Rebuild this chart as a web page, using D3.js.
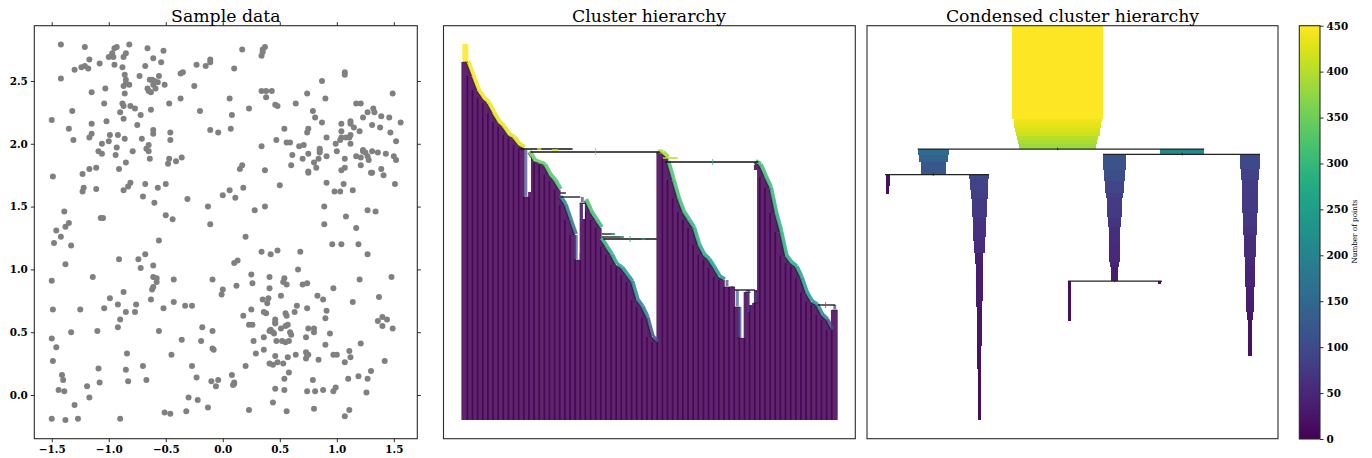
<!DOCTYPE html>
<html><head><meta charset="utf-8">
<script src="https://cdn.jsdelivr.net/npm/d3@7/dist/d3.min.js"></script>
<style>
html,body{margin:0;padding:0;background:#fff}
svg{display:block}
text{font-family:"DejaVu Serif",serif;fill:#000}
.tick text{font-weight:700;font-size:10.4px}
.title{font-size:17.3px;text-anchor:middle}
</style></head><body><svg id="c" width="1372" height="458"></svg>
<script>
// ---------- Sample data ----------
const sampleX=[-1.42,-1.21,-1.42,-1.50,-1.49,-1.39,-1.35,-1.31,-1.32,-1.30,-1.24,-1.21,-1.18,-1.17,-1.15,-1.15,-1.08,-1.03,-1.04,-1.02,-1.15,-1.17,-1.06,-1.09,-1.06,-0.99,-1.00,-1.11,-1.17,-1.23,-1.22,-1.23,-1.11,-1.07,-1.05,-1.46,-1.38,-1.35,-1.42,-1.33,-1.48,-1.38,
-1.00,-0.97,-0.96,-0.95,-0.93,-0.95,-0.88,-0.87,-0.85,-0.82,-0.86,-0.85,-0.85,-0.87,-0.82,-0.86,-0.73,-0.68,-0.66,-0.61,-0.52,-0.54,-0.56,-0.64,-0.62,-0.60,-0.61,-0.57,-0.51,-0.66,-0.65,-0.63,-0.59,-0.88,-0.87,-0.81,-0.77,-0.90,-0.87,-0.72,-0.63,-0.75,-0.71,-0.61,-0.61,-0.92,-0.86,-0.93,-0.94,-0.79,-0.65,-0.67,-0.65,-0.64,-0.85,-0.91,-0.47,-0.46,-0.46,-0.47,-0.48,-0.41,-0.36,-0.87,-0.83,-0.81,-0.68,-0.57,-0.50,-0.70,-0.60,-0.31,-0.50,-0.44,-0.37,-0.35,-0.37,-0.25,-0.23,-0.15,-0.11,-0.11,-0.20,-0.11,-0.04,
0.10,0.17,0.34,0.35,0.35,0.37,0.34,0.38,0.43,0.38,0.06,0.23,0.08,0.07,0.34,0.46,0.48,0.64,0.74,0.87,0.90,1.07,1.07,1.49,1.17,1.21,1.32,1.33,1.27,1.23,1.39,1.46,1.56,0.79,0.81,0.87,0.54,0.75,0.74,1.04,1.04,1.12,1.12,1.15,1.20,1.31,1.38,1.47,1.52,0.91,0.47,0.56,0.59,0.67,0.71,0.75,0.99,1.03,1.04,1.08,1.12,1.11,1.12,0.85,0.85,0.85,0.91,1.00,0.61,0.70,0.60,0.84,0.80,0.82,0.75,0.75,1.07,1.17,1.21,1.23,1.23,1.25,1.31,1.36,1.43,1.27,1.28,1.50,1.52,1.21,1.04,1.07,1.39,1.30,1.31,1.41,0.91,1.06,1.51,0.50,0.98,1.03,1.14,0.37,0.17,0.15,0.18,0.06,0.00,0.11,-0.13,0.37,0.28,0.89,1.27,1.34,1.08,-0.11,0.89,1.17,
0.20,-0.56,0.96,1.04,1.19,1.27,0.34,0.42,0.48,0.68,0.10,0.13,-0.74,-0.68,-0.91,-0.61,-0.72,-1.50,-1.14,-0.61,-0.58,-0.58,-0.61,-0.62,-0.43,-0.09,0.00,-0.01,0.12,0.25,0.26,0.41,0.41,0.54,0.53,0.56,0.66,0.70,0.74,0.97,1.20,1.48,-0.87,-0.99,-0.63,-1.04,-1.25,-1.49,-0.92,-0.76,-0.85,-0.77,-0.90,-0.92,-0.52,-0.43,-0.33,-0.27,0.51,0.35,0.40,0.39,0.83,0.88,1.14,1.37,0.25,0.18,0.36,0.38,0.65,0.63,0.74,0.91,0.90,0.55,0.56,0.46,0.46,0.46,0.23,0.26,0.57,0.55,0.51,0.75,0.80,0.80,1.36,1.40,1.44,1.40,1.49,-0.18,-0.09,-0.56,-1.10,-1.33,-1.50,-1.46,-1.49,0.41,0.42,0.44,0.45,0.59,0.60,0.36,0.27,0.47,0.52,0.55,0.58,0.73,0.94,0.90,1.21,-0.36,-0.19,-0.09,-0.08,-0.45,-0.84,0.29,0.36,0.46,0.57,0.64,0.73,0.75,0.74,0.73,0.97,1.00,1.11,1.12,0.84,1.07,1.42,1.30,0.41,0.44,0.48,0.53,0.58,0.20,0.08,-0.70,-0.27,-1.09,-0.85,-0.23,-1.41,-1.40,-0.67,-0.83,-1.08,-1.19,-0.10,-0.04,-0.06,0.10,0.10,0.09,0.54,0.79,1.10,1.19,1.27,0.46,0.54,0.74,0.81,0.88,0.97,0.99,1.26,-1.44,-1.39,-1.30,-1.17,-0.30,-0.22,-0.13,-0.32,-0.51,-0.46,0.44,0.23,0.56,0.80,1.11,1.07,-1.50,-1.38,-1.27,-0.90];
const sampleY=[2.79,2.77,2.52,2.19,1.74,1.46,2.12,2.03,2.26,2.59,2.61,2.62,2.60,2.67,2.41,2.16,2.64,2.44,2.32,2.18,2.08,2.05,2.00,1.94,1.92,2.07,2.02,1.81,1.80,1.76,1.65,1.62,1.64,1.41,1.41,1.31,1.34,1.37,1.26,1.19,1.21,1.04,
2.69,2.72,2.69,2.76,2.77,2.63,2.61,2.69,2.72,2.79,2.55,2.51,2.48,2.46,2.47,2.40,2.54,2.62,2.76,2.68,2.74,2.65,2.54,2.51,2.51,2.50,2.47,2.49,2.47,2.44,2.42,2.41,2.44,2.32,2.30,2.30,2.28,2.25,2.20,2.23,2.27,2.15,2.04,2.11,2.08,2.07,2.04,1.97,1.91,1.94,1.99,1.96,1.94,1.88,1.85,1.80,2.32,2.09,2.03,1.88,1.84,1.86,1.89,1.63,1.66,1.69,1.68,1.65,1.68,1.58,1.53,1.56,1.43,1.40,2.56,2.57,2.36,2.46,2.63,2.62,2.65,2.67,2.26,2.11,2.09,
2.60,2.75,2.70,2.73,2.75,2.77,2.42,2.42,2.42,2.37,2.36,2.28,2.23,2.12,1.98,2.31,2.30,2.32,2.40,2.50,2.36,2.57,2.55,2.40,2.32,2.32,2.28,2.25,2.25,2.21,2.22,2.21,2.17,2.26,2.21,2.17,2.12,2.12,2.09,2.16,2.10,2.18,2.16,2.13,2.10,2.15,2.13,2.09,2.02,2.05,2.03,2.01,2.01,1.98,1.99,1.92,2.00,2.03,2.05,2.05,2.07,2.05,2.00,1.96,1.95,1.93,1.90,1.94,1.91,1.88,1.83,1.88,1.85,1.81,1.78,1.77,1.88,1.90,1.89,1.95,1.94,1.93,1.94,1.93,1.92,1.90,1.87,1.90,1.87,1.83,1.79,1.81,1.80,1.77,1.77,1.75,1.69,1.68,1.68,1.67,1.62,1.62,1.63,1.79,1.83,1.80,1.65,1.63,1.59,1.57,1.50,1.50,1.47,1.50,1.47,1.46,1.42,1.36,1.36,1.33,
1.26,1.23,1.20,1.20,1.20,1.12,1.14,1.12,1.15,1.14,1.05,1.07,1.08,1.12,1.08,1.03,1.01,0.91,0.94,0.94,0.93,0.90,0.86,0.84,0.92,0.92,0.84,0.80,0.87,0.96,0.89,0.94,0.85,0.93,0.90,0.88,1.00,0.88,0.89,0.85,0.92,0.94,0.82,0.77,0.76,0.69,0.68,0.68,0.72,0.72,0.66,0.66,0.60,0.54,0.69,0.74,0.71,0.71,0.79,0.76,0.77,0.73,0.79,0.76,0.74,0.78,0.68,0.63,0.66,0.65,0.71,0.66,0.69,0.67,0.61,0.65,0.63,0.60,0.58,0.57,0.56,0.56,0.56,0.55,0.53,0.53,0.53,0.50,0.59,0.62,0.60,0.55,0.53,0.54,0.51,0.51,0.51,0.50,0.45,0.38,0.27,0.51,0.52,0.50,0.49,0.50,0.48,0.46,0.43,0.43,0.43,0.42,0.43,0.46,0.49,0.40,0.41,0.44,0.43,0.37,0.36,0.32,0.33,0.33,0.36,0.31,0.30,0.32,0.34,0.32,0.32,0.29,0.32,0.32,0.35,0.30,0.28,0.26,0.27,0.19,0.25,0.24,0.26,0.25,0.18,0.23,0.16,0.23,0.23,0.21,0.20,0.14,0.16,0.12,0.12,0.11,0.10,0.07,0.11,0.12,0.07,0.10,0.09,0.08,0.13,0.12,0.13,0.15,0.13,0.05,0.04,0.03,0.03,0.04,0.03,0.06,0.02,0.04,0.03,-0.08,-0.02,-0.02,-0.04,-0.10,-0.13,-0.14,-0.15,-0.06,-0.12,-0.13,-0.11,-0.12,-0.17,-0.19,-0.20,-0.19,-0.19];
const sampleXTicks=[-1.5,-1.0,-0.5,0.0,0.5,1.0,1.5];
const sampleYTicks=[0.0,0.5,1.0,1.5,2.0,2.5];

// ---------- Cluster hierarchy (distance of each leaf bar, in leaf order) ----------
const leafDistance=[.358,.344,.330,.322,.317,.307,.298,.293,.285,.282,.275,.272,.223,.259,.257,.255,.245,.239,.230,.215,.200,.185,.160,.217,.208,.200,.192,.173,.165,.155,.152,.145,.138,.120,.113,.102,.083,.078,.267,.262,.240,.222,.208,.200,.192,.175,.165,.160,.152,.143,.140,.133,.133,.113,.082,.128,.117,.255,.243,.232,.207,.188,.164,.157,.153,.142,.127,.118,.115,.105,.100,.090,.110];
const stemSize=[450,445,442,440,438,436,434,432,430,428,426,424,95,345,340,335,330,325,320,205,190,170,120,85,320,310,300,290,285,270,250,235,220,210,195,185,130,110,395,385,320,315,310,300,290,285,275,265,255,245,235,95,110,130,120,100,90,310,305,300,295,290,285,275,270,260,250,235,225,200,185,105,95];
// leaf index -> distance where its coloured stem starts, when not the previous leaf
const stemStart={0:.376,12:.270,13:.268,19:.223,23:.223,24:.220,27:.181,38:.268,40:.258,53:.130,55:.130,56:.127,57:.258,72:.115};
const stemShift={12:-1,22:-2,23:-1,54:-2.5,56:3};
const straightStems=[0,12,22,23,51,52,53,54,55,56,72];
const mergeFrom=[10.8,12.8,18.6,18.6,26.7,26.7,27,39,52.6,68.8];
const mergeTo=[21,38,22.5,19.7,29.2,30.9,37.4,57.2,56.5,72.2];
const mergeDistance=[.271,.268,.223,.227,.186,.183,.181,.258,.130,.115];
const tintFrom=[14.1,17,28.6,30.2,34.4,38.6];
const tintTo=[14.9,18.2,29.3,31,35.2,41.5];
const tintDistance=[.271,.270,.186,.183,.181,.262];
const tintSize=[425,425,300,290,240,400];
const twigIndex=[25.5,48.3,70.3,32.2];
const twigTop=[.272,.261,.118,.184];
const twigBottom=[.265,.255,.112,.178];
const twigSize=[350,300,210,250];
const sideIndex=[22.7,55.3];
const sideTop=[.217,.130];
const sideBottom=[.197,.108];
const sideSize=[85,100];
const gapIndex=[12.6,22.08,23.2,55.7,56.6];
const gapTop=[.268,.222,.216,.127,.250];
const gapBottom=[.228,.167,.201,.115,.130];
const gapWidth=[3,2.5,2,3,3.6];

// ---------- Condensed hierarchy ----------
const clusterNames=["root","A","B","C","D","E","F","G","H"];
const clusterCenter={root:946,A:329,B:1564,C:102,D:556,E:1228,F:1900,G:1005,H:1453};
const clusterStart={root:0,A:12.3,B:12.3,C:14.85,D:14.85,E:12.82,F:12.82,G:25.5,H:25.5};
const clusterEnds={
 root:[9.35,9.65,9.95,10.25,10.65,11.05,11.45,11.85,12.3],
 A:[12.95,13.62,14.85],
 B:[12.82],
 C:[14.95,16.05,16.85],
 D:[15.32,16.45,17.35,19.12,21.12,21.52,22.72,23.85,27.55,28.12,32.02,34.32,39.45],
 E:[14.45,15.55,16.78,17.22,18.45,19.18,20.18,21.72,22.85,23.62,24.12,25.5],
 F:[14.35,15.45,16.78,18.72,20.05,20.95,21.45,23.12,23.95,26.18,27.45,28.62,29.45,31.52,33.02],
 G:[29.52],
 H:[25.65,25.85]};
const clusterSizes={
 root:[450,438,434,430,424,416,404,392,382],
 A:[155,142,122],
 B:[217],
 C:[25,20,15],
 D:[99,89,84,74,64,60,55,40,35,30,25,20,15],
 E:[114,104,94,84,79,74,69,59,54,50,45,35],
 F:[99,89,79,76,71,66,58,55,50,45,40,35,25,20,18],
 G:[15],
 H:[17,15]};
const splitLeft=["A","C","E","G"];
const splitRight=["B","D","F","H"];
const splitParent=["root","A","B","E"];
const colorbarTicks=[0,50,100,150,200,250,300,350,400,450];

// ---------- Drawing ----------
const svg=d3.select("#c");
const maxSize=450;
const colorOf=s=>d3.interpolateViridis(s/maxSize);
const edge="#2b2b2b";
function frame(x0,y0,x1,y1){
  svg.append("rect").attr("x",x0).attr("y",y0).attr("width",x1-x0).attr("height",y1-y0)
    .attr("fill","none").attr("stroke",edge).attr("stroke-width",1.1);
}
function title(t,x){svg.append("text").attr("class","title").attr("x",x).attr("y",21.5).text(t);}
function styleAxis(g){g.select(".domain").remove();g.selectAll(".tick line").attr("stroke",edge).attr("stroke-width",1);}

// Panel 1
const P1={l:34.3,r:417.3,t:25.7,b:438.7};
const sx=d3.scaleLinear().domain([-1.653,1.706]).range([P1.l,P1.r]);
const sy=d3.scaleLinear().domain([-0.348,2.94]).range([P1.b,P1.t]);
const fmt=d3.format(".1f");
svg.append("g").selectAll("circle").data(sampleX).join("circle")
  .attr("cx",d=>sx(d)).attr("cy",(d,i)=>sy(sampleY[i])).attr("r",3).attr("fill","#808080");
svg.append("g").attr("transform",`translate(0,${P1.b})`).call(d3.axisBottom(sx).tickValues(sampleXTicks).tickFormat(fmt).tickSize(3.5).tickPadding(3)).call(styleAxis);
svg.append("g").attr("transform",`translate(0,${P1.t})`).call(d3.axisTop(sx).tickValues(sampleXTicks).tickFormat("").tickSize(3.5)).call(styleAxis);
svg.append("g").attr("transform",`translate(${P1.l},0)`).call(d3.axisLeft(sy).tickValues(sampleYTicks).tickFormat(fmt).tickSize(3.5).tickPadding(3)).call(styleAxis);
svg.append("g").attr("transform",`translate(${P1.r},0)`).call(d3.axisRight(sy).tickValues(sampleYTicks).tickFormat("").tickSize(3.5)).call(styleAxis);
frame(P1.l,P1.t,P1.r,P1.b);
title("Sample data",225.8);

// Panel 2
const ix=d3.scaleLinear().domain([0,leafDistance.length-1]).range([464.8,834.3]);
const dy=d3.scaleLinear().domain([0,.376]).range([420,44]);
const halfStep=2.6;
const isStraight=i=>straightStems.includes(i);
const stemFrom=i=>stemStart[i]!==undefined?stemStart[i]:leafDistance[i-1];
const stemX1=i=>isStraight(i)?ix(i)+.5+(stemShift[i]||0):ix(i)-halfStep;
const stemX2=i=>isStraight(i)?ix(i)+.5+(stemShift[i]||0):ix(i)+halfStep;
const stemW=i=>i===0?6:(isStraight(i)?.44:.5)*Math.log2(stemSize[i]);
const stemOpacity=i=>(isStraight(i)&&i!==0)?.7:.85;
const g2=svg.append("g");
g2.selectAll("line.bar").data(leafDistance).join("line").attr("class","bar")
  .attr("x1",(d,i)=>ix(i)).attr("x2",(d,i)=>ix(i)).attr("y1",dy(0)).attr("y2",d=>dy(d))
  .attr("stroke",colorOf(0)).attr("stroke-width",6.8).attr("stroke-opacity",.86);
// filled wedge under each sloped stem, so the stair has no white notch
g2.selectAll("path.wedge").data(leafDistance).join("path").attr("class","wedge")
  .attr("d",(d,i)=>isStraight(i)?null:d3.line()([[stemX1(i),dy(stemFrom(i))],[stemX2(i),dy(d)],[stemX1(i),dy(d)]]))
  .attr("fill","#5a1f6c");
g2.selectAll("line.gap").data(gapIndex).join("line").attr("class","gap")
  .attr("x1",d=>ix(d)).attr("x2",d=>ix(d)).attr("y1",(d,i)=>dy(gapTop[i])).attr("y2",(d,i)=>dy(gapBottom[i]))
  .attr("stroke","#fff").attr("stroke-width",(d,i)=>gapWidth[i]);
g2.selectAll("line.stem").data(leafDistance).join("line").attr("class","stem")
  .attr("x1",(d,i)=>stemX1(i)+(isStraight(i)?0:.9)).attr("x2",(d,i)=>stemX2(i)+(isStraight(i)?0:.9))
  .attr("y1",(d,i)=>dy(stemFrom(i))-(isStraight(i)?0:.9)).attr("y2",d=>dy(d)-.9)
  .attr("stroke",(d,i)=>colorOf(stemSize[i])).attr("stroke-width",(d,i)=>stemW(i)).attr("stroke-opacity",(d,i)=>stemOpacity(i));
g2.selectAll("line.side").data(sideIndex).join("line").attr("class","side")
  .attr("x1",d=>ix(d)).attr("x2",d=>ix(d)).attr("y1",(d,i)=>dy(sideTop[i])).attr("y2",(d,i)=>dy(sideBottom[i]))
  .attr("stroke",(d,i)=>colorOf(sideSize[i])).attr("stroke-width",2.2).attr("stroke-opacity",.7);
g2.selectAll("line.step").data(leafDistance).join("line").attr("class","step")
  .attr("x1",(d,i)=>stemX1(i)-(isStraight(i)?2.6:1)).attr("x2",(d,i)=>stemX2(i)+(isStraight(i)?2.6:-1))
  .attr("y1",(d,i)=>isStraight(i)?dy(d):dy(stemFrom(i))+1).attr("y2",d=>dy(d))
  .attr("stroke","#1c1c2a").attr("stroke-width",1).attr("stroke-opacity",.7);
g2.selectAll("line.merge").data(mergeFrom).join("line").attr("class","merge")
  .attr("x1",d=>ix(d)).attr("x2",(d,i)=>ix(mergeTo[i])).attr("y1",(d,i)=>dy(mergeDistance[i])).attr("y2",(d,i)=>dy(mergeDistance[i]))
  .attr("stroke","#111").attr("stroke-width",1.3);
g2.selectAll("line.tint").data(tintFrom).join("line").attr("class","tint")
  .attr("x1",d=>ix(d)).attr("x2",(d,i)=>ix(tintTo[i])).attr("y1",(d,i)=>dy(tintDistance[i])).attr("y2",(d,i)=>dy(tintDistance[i]))
  .attr("stroke",(d,i)=>colorOf(tintSize[i])).attr("stroke-width",1.5);
g2.selectAll("line.twig").data(twigIndex).join("line").attr("class","twig")
  .attr("x1",d=>ix(d)).attr("x2",d=>ix(d)).attr("y1",(d,i)=>dy(twigTop[i])).attr("y2",(d,i)=>dy(twigBottom[i]))
  .attr("stroke",(d,i)=>colorOf(twigSize[i])).attr("stroke-width",1).attr("stroke-opacity",.8);
frame(443.5,25.7,855.3,438.7);
title("Cluster hierarchy",649);

// Panel 3
const P3={l:867,r:1278,t:25.7,b:438.7};
const cx=d3.scaleLinear().domain([0,2039]).range([P3.l,P3.r]);
const ly=d3.scaleLinear().domain([0,41.3]).range([25.5,438.5]);
const rows=clusterNames.flatMap(n=>clusterEnds[n].map((e,k)=>({
  c:clusterCenter[n],s:clusterSizes[n][k],a:k?clusterEnds[n][k-1]:clusterStart[n],b:e})));
svg.append("g").attr("shape-rendering","crispEdges").selectAll("rect").data(rows).join("rect")
  .attr("x",d=>cx(d.c-d.s/2)).attr("width",d=>cx(d.s)-cx(0))
  .attr("y",d=>ly(d.a)).attr("height",d=>ly(d.b)-ly(d.a)).attr("fill",d=>colorOf(d.s));
const splits=splitParent.map((p,i)=>{const L=splitLeft[i],R=splitRight[i];return{
  x1:cx(clusterCenter[L]-clusterSizes[L][0]/2),x2:cx(clusterCenter[R]+clusterSizes[R][0]/2),
  xm:cx(clusterCenter[p]),y:ly(clusterStart[L])+.7};});
const g3=svg.append("g");
g3.selectAll("line.link").data(splits).join("line").attr("class","link")
  .attr("x1",d=>d.x1).attr("x2",d=>d.x2).attr("y1",d=>d.y).attr("y2",d=>d.y)
  .attr("stroke","#222").attr("stroke-width",1.3);
g3.selectAll("line.mid").data(splits).join("line").attr("class","mid")
  .attr("x1",d=>d.xm).attr("x2",d=>d.xm).attr("y1",d=>d.y-1.5).attr("y2",d=>d.y+1)
  .attr("stroke","#222").attr("stroke-width",1);
frame(P3.l,P3.t,P3.r,P3.b);
title("Condensed cluster hierarchy",1072.5);

// Colorbar
const C={l:1299.3,r:1320,t:25.7,b:439};
const cby=d3.scaleLinear().domain([0,maxSize]).range([C.b,C.t]);
const grad=svg.append("defs").append("linearGradient").attr("id","vir").attr("x1",0).attr("x2",0).attr("y1",1).attr("y2",0);
d3.range(0,1.0001,.02).forEach(t=>grad.append("stop").attr("offset",t).attr("stop-color",d3.interpolateViridis(t)));
svg.append("rect").attr("x",C.l).attr("y",C.t).attr("width",C.r-C.l).attr("height",C.b-C.t).attr("fill","url(#vir)");
svg.append("g").attr("transform",`translate(${C.r},0)`).call(d3.axisRight(cby).tickValues(colorbarTicks).tickFormat(d3.format("d")).tickSize(3.5).tickPadding(3)).call(styleAxis);
frame(C.l,C.t,C.r,C.b);
svg.append("text").attr("transform","translate(1357,231.5) rotate(-90)").attr("text-anchor","middle")
  .style("font-size","7.2px").text("Number of points");
</script></body></html>
